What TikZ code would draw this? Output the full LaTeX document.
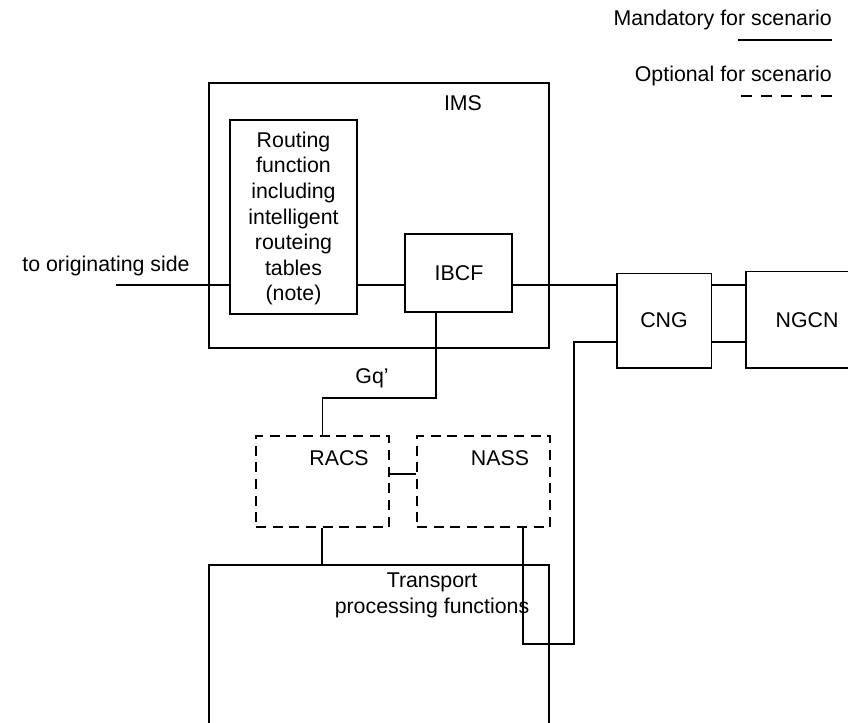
\documentclass[tikz,border=0pt]{standalone}
\usepackage{fontspec}
\setmainfont{Liberation Sans}
\usetikzlibrary{fit,calc}
\begin{document}
\begin{tikzpicture}[x=0.75pt,y=-0.75pt,
  every node/.style={font=\fontsize{16}{19.2}\selectfont},
  box/.style={draw, line width=1.1pt, inner sep=0pt},
  dbox/.style={box, dash pattern=on 7.5pt off 5pt},
  wire/.style={draw, line width=1.1pt},
  dwire/.style={wire, dash pattern=on 8pt off 7pt},
  lbl/.style={inner sep=0pt, align=center}]
\clip (0,0) rectangle (848,722);
% legend
\node[lbl, anchor=east] (mand) at (832,20) {Mandatory for scenario};
\node[lbl, anchor=east] (opt) at (832,76) {Optional for scenario};
\coordinate (m1) at (738,40); \coordinate (m2) at (832,40);
\coordinate (o1) at (738,96); \coordinate (o2) at (832,96);
\draw[wire] (m1) -- (m2);
\draw[dwire] (o2) -- (o1);
% boxes
\node[box, fit={(209,83) (549,348)}] (ims) {};
\node[lbl] (imsl) at (463,103) {IMS};
\node[box, fit={(230,120) (357,314)}] (rout) {};
\node[lbl] (routl) at (293.5,218.5) {Routing\\function\\including\\intelligent\\routeing\\tables\\(note)};
\node[box, fit={(405,234) (512,312)}] (ibcf) {};
\node[lbl] (ibcfl) at (459,273) {IBCF};
\node[box, fit={(617,273.5) (711.5,368)}] (cng) {};
\node[lbl] (cngl) at (664,320) {CNG};
\node[box, fit={(746,271.5) (868,368)}] (ngcn) {};
\node[lbl] (ngcnl) at (807,320) {NGCN};
\node[dbox, fit={(256,436) (389,527)}] (racs) {};
\node[lbl] (racsl) at (339,458) {RACS};
\node[dbox, fit={(417,436) (550,527)}] (nass) {};
\node[lbl] (nassl) at (500,458) {NASS};
\node[box, fit={(209,565) (549,770)}] (tpf) {};
\node[lbl] (tpfl) at (432,595.5) {Transport\\processing functions};
\node[lbl] (orig) at (106,266) {to originating side};
\node[lbl] (gq) at (372,378) {Gq'};
% connectors
\coordinate (o) at (116,285);
\coordinate (low) at (0,342);
\draw[wire] (o) -- (o -| rout.west);
\draw[wire] (o -| rout.east) -- (o -| ibcf.west);
\draw[wire] (o -| ibcf.east) -- (o -| cng.west);
\draw[wire] (o -| cng.east) -- (o -| ngcn.west);
\draw[wire] (low -| cng.east) -- (low -| ngcn.west);
\coordinate (g1) at (436,398);
\draw[wire] (g1 |- ibcf.south) -- (g1) -| (racs.north);
\coordinate (rn) at (0,474);
\draw[wire] (rn -| racs.east) -- (rn -| nass.west);
\coordinate (r1) at (322,0);
\draw[wire] (r1 |- racs.south) -- (r1 |- tpf.north);
\coordinate (n1) at (523,644);
\coordinate (n2) at (574,342);
\draw[wire] (n1 |- nass.south) -- (n1) -| (n2) -- (n2 -| cng.west);
\end{tikzpicture}
\end{document}
